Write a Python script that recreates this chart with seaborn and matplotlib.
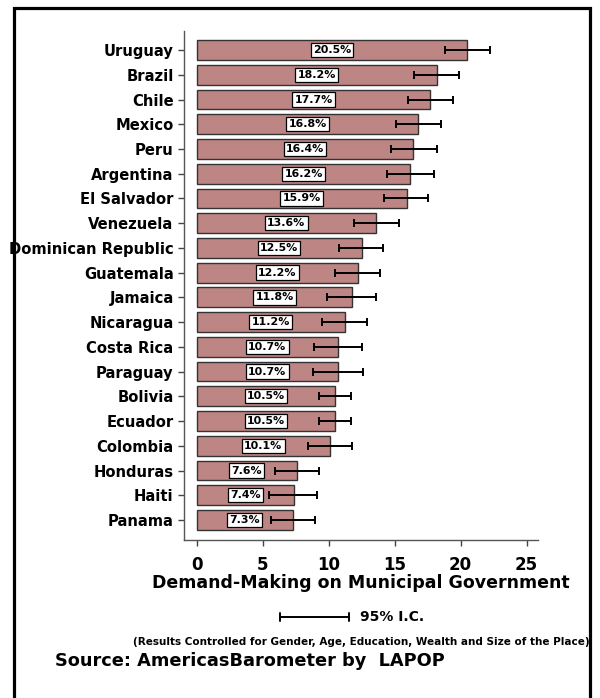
import matplotlib
matplotlib.use("Agg")
import matplotlib.pyplot as plt
import seaborn as sns
import pandas as pd
from matplotlib.patches import Rectangle
from matplotlib.lines import Line2D

countries = ["Uruguay", "Brazil", "Chile", "Mexico", "Peru", "Argentina", "El Salvador",
             "Venezuela", "Dominican Republic", "Guatemala", "Jamaica", "Nicaragua",
             "Costa Rica", "Paraguay", "Bolivia", "Ecuador", "Colombia", "Honduras",
             "Haiti", "Panama"]
values = [20.5, 18.2, 17.7, 16.8, 16.4, 16.2, 15.9, 13.6, 12.5, 12.2, 11.8, 11.2,
          10.7, 10.7, 10.5, 10.5, 10.1, 7.6, 7.4, 7.3]
ci_low = [18.8, 16.5, 16.0, 15.1, 14.7, 14.45, 14.2, 11.9, 10.75, 10.45, 9.9, 9.5,
          8.9, 8.8, 9.3, 9.3, 8.4, 5.95, 5.5, 5.6]
ci_high = [22.2, 19.9, 19.4, 18.5, 18.2, 18.0, 17.5, 15.3, 14.1, 13.9, 13.6, 12.9,
           12.5, 12.6, 11.7, 11.7, 11.8, 9.3, 9.1, 9.0]
xticks = [0, 5, 10, 15, 20, 25]

sns.set_style("white")
plt.rcParams["font.family"] = ["DejaVu Sans"]
plt.rcParams["font.weight"] = "bold"
plt.rcParams["text.color"] = "black"
plt.rcParams["xtick.color"] = "black"
plt.rcParams["ytick.color"] = "black"
plt.rcParams["axes.labelcolor"] = "black"

df = pd.DataFrame({"country": countries, "value": values})

fig = plt.figure(figsize=(6.0, 6.98), dpi=100)
W, H = 600, 698
ax = fig.add_axes([184 / W, 1 - 540 / H, (538 - 184) / W, (540 - 31) / H])

sns.barplot(data=df, x="value", y="country", orient="h", color="#BE8585",
            saturation=1, width=0.8, edgecolor="#333333", linewidth=1.0, ax=ax)

# error bars (95% CI)
for i, (lo, hi) in enumerate(zip(ci_low, ci_high)):
    c = (lo + hi) / 2
    ax.errorbar(c, i, xerr=[[c - lo], [hi - c]], fmt="none", ecolor="black",
                elinewidth=1.4, capsize=3, capthick=1.4, zorder=5)

# value labels
for i, v in enumerate(values):
    ax.text(v / 2, i, f"{v}%", ha="center", va="center", fontsize=7.9,
            fontweight="bold", color="black", zorder=6,
            bbox=dict(boxstyle="square,pad=0.2", fc="white", ec="black", lw=0.9))

ax.set_xlim(-0.96, 25.86)
ax.set_ylim(19.81, -0.77)
ax.set_xticks(xticks)
ax.set_xticklabels([str(t) for t in xticks], fontsize=12, fontweight="bold")
ax.set_yticks(range(len(countries)))
ax.set_yticklabels(countries, fontsize=10.6, fontweight="bold")
ax.tick_params(axis="both", which="major", direction="out", length=4.5, width=1,
               color="#444444", labelcolor="black", bottom=True, left=True)
ax.tick_params(axis="x", pad=7)
ax.tick_params(axis="y", pad=3)
for s in ["top", "right"]:
    ax.spines[s].set_visible(False)
for s in ["left", "bottom"]:
    ax.spines[s].set_color("#555555")
    ax.spines[s].set_linewidth(1.0)
ax.set_ylabel("")
ax.set_xlabel("Demand-Making on Municipal Government", fontsize=12.5,
              fontweight="bold", labelpad=0, color="black")

# frame
fig.add_artist(Rectangle((14 / W, -0.1), (590 - 14) / W, 1 - 8 / H + 0.1,
                         transform=fig.transFigure, fill=False, lw=2.3,
                         ec="black", clip_on=False))

# legend error bar
ly = 1 - 617 / H
fig.add_artist(Line2D([280 / W, 349 / W], [ly, ly], transform=fig.transFigure,
                      color="black", lw=1.4))
for xx in (280, 349):
    fig.add_artist(Line2D([xx / W, xx / W], [ly - 4 / H, ly + 4 / H],
                          transform=fig.transFigure, color="black", lw=1.4))
fig.text(360 / W, ly, "95% I.C.", ha="left", va="center", fontsize=10,
         fontweight="bold")

fig.text(361.5 / W, 1 - 642 / H,
         "(Results Controlled for Gender, Age, Education, Wealth and Size of the Place)",
         ha="center", va="center", fontsize=7.5, fontweight="bold")
fig.text(55 / W, 1 - 661 / H, "Source: AmericasBarometer by  LAPOP",
         ha="left", va="center", fontsize=12.8, fontweight="bold")

fig.savefig("out.png", dpi=100, facecolor="white")
